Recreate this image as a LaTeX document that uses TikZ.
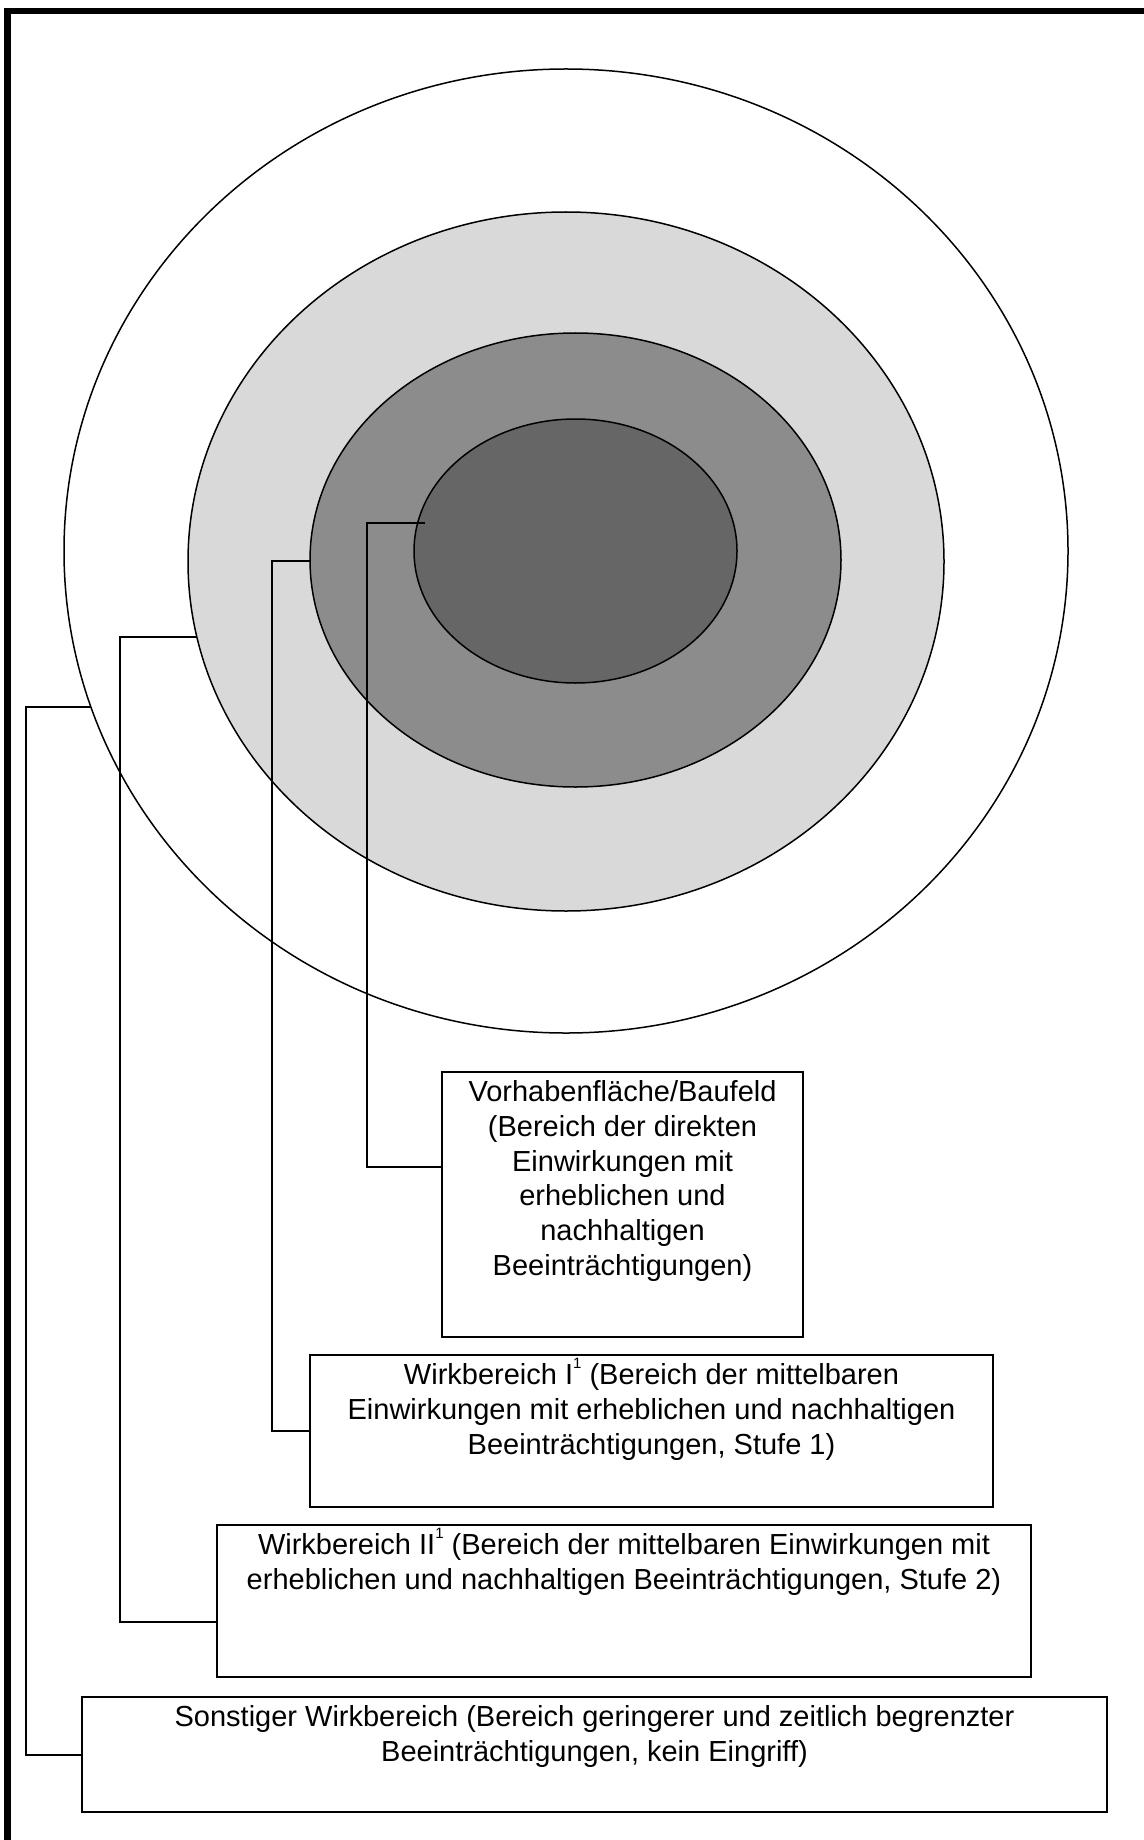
\documentclass[tikz,border=0pt]{standalone}
\usepackage{fontspec}
\setmainfont{Liberation Sans}
\usetikzlibrary{shapes.geometric}
\definecolor{ringlight}{HTML}{D9D9D9}
\definecolor{ringmid}{HTML}{8C8C8C}
\definecolor{ringdark}{HTML}{666666}
\newcommand\wbmark[1]{\smash{\raisebox{8pt}{\fontsize{7.5pt}{7.5pt}\selectfont #1}}}
\tikzset{
  ring/.style={ellipse, draw, line width=0.75pt, inner sep=0pt, outer sep=0pt},
  infobox/.style={draw, line width=1pt, anchor=north west, inner sep=0pt, outer sep=0pt},
  lbl/.style={anchor=north, align=center, inner sep=0pt, font=\fontsize{14.5pt}{17.4pt}\selectfont},
  conn/.style={draw, line width=1pt}
}
\begin{document}
\begin{tikzpicture}[x=0.5pt,y=-0.5pt]
\useasboundingbox (0,0) rectangle (1144,1840);
\clip (0,0) rectangle (1144,1840);
\draw[line width=3.3pt] (7.5,11) rectangle (1147,1870);

% rings
\node[ring, fill=white, minimum width=502pt, minimum height=482pt] (outer) at (566,551) {};
\node[ring, fill=ringlight, minimum width=378pt, minimum height=349.5pt] (light) at (566,561.5) {};
\node[ring, fill=ringmid, minimum width=265.5pt, minimum height=227pt] (mid) at (575.5,560) {};
\node[ring, fill=ringdark, minimum width=161.5pt, minimum height=132pt] (dark) at (575.5,551) {};

% boxes
\node[infobox, minimum width=180.5pt, minimum height=132.5pt] (vb) at (442,1072) {};
\node[infobox, minimum width=341.5pt, minimum height=76pt] (wb1) at (310,1355) {};
\node[infobox, minimum width=407pt, minimum height=76pt] (wb2) at (217,1525) {};
\node[infobox, minimum width=512.5pt, minimum height=57.5pt] (sw) at (82,1697) {};

\node[lbl] (vbt) at ([yshift=-4pt]vb.north) {Vorhabenfläche/Baufeld\\(Bereich der direkten\\Einwirkungen mit\\erheblichen und\\nachhaltigen\\Beeinträchtigungen)};
\node[lbl] (wb1t) at ([yshift=-4pt]wb1.north) {Wirkbereich I\wbmark{1} (Bereich der mittelbaren\\Einwirkungen mit erheblichen und nachhaltigen\\Beeinträchtigungen, Stufe 1)};
\node[lbl] (wb2t) at ([yshift=-4pt]wb2.north) {Wirkbereich II\wbmark{1} (Bereich der mittelbaren Einwirkungen mit\\erheblichen und nachhaltigen Beeinträchtigungen, Stufe 2)};
\node[lbl] (swt) at ([yshift=-4pt]sw.north) {Sonstiger Wirkbereich (Bereich geringerer und zeitlich begrenzter\\Beeinträchtigungen, kein Eingriff)};

% connector start points on the rings and bend columns
\coordinate (e1) at (425,523);
\coordinate (e2) at (310,561);
\coordinate (e3) at (197,637);
\coordinate (e4) at (91,707);
\coordinate (k1) at (367,0);
\coordinate (k2) at (272,0);
\coordinate (k3) at (120,0);
\coordinate (k4) at (26,0);

\draw[conn] (e1) -- (e1 -| k1) |- ([yshift=-47.5pt]vb.north west);
\draw[conn] (e2) -- (e2 -| k2) |- (wb1.west);
\draw[conn] (e3) -- (e3 -| k3) |- ([yshift=-48.5pt]wb2.north west);
\draw[conn] (e4) -- (e4 -| k4) |- (sw.west);
\end{tikzpicture}
\end{document}
